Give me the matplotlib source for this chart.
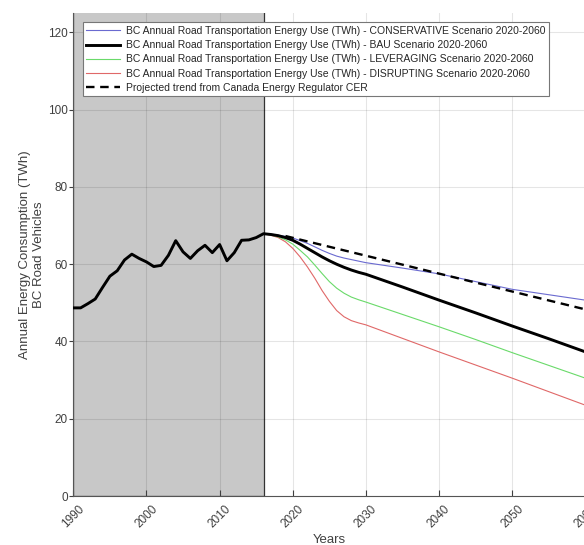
import matplotlib.pyplot as plt
from matplotlib.patches import Rectangle

# historical data 1990-2016 (TWh)
hist_years = list(range(1990, 2017))
hist_vals = [48.7, 48.7, 49.8, 51.0, 54.0, 56.9, 58.3, 61.1, 62.6, 61.5,
             60.6, 59.4, 59.7, 62.3, 66.1, 63.2, 61.5, 63.5, 64.9, 63.0,
             65.1, 60.9, 63.0, 66.2, 66.3, 66.9, 67.9]

# scenario projections
proj_years = [2017, 2018, 2019, 2020, 2021, 2022, 2023, 2024, 2025, 2026,
              2027, 2028, 2029, 2030, 2035, 2040, 2045, 2050, 2055, 2060]
conservative = [67.8, 67.5, 67.2, 66.8, 66.1, 65.4, 64.5, 63.6, 62.8, 62.1,
                61.6, 61.2, 60.8, 60.4, 59.0, 57.5, 55.5, 53.5, 52.1, 50.7]
bau = [67.7, 67.4, 66.9, 66.2, 65.2, 64.1, 63.0, 61.9, 60.9, 60.0,
       59.2, 58.5, 57.9, 57.4, 54.1, 50.7, 47.4, 44.0, 40.7, 37.3]
leveraging = [67.6, 67.1, 66.3, 65.2, 63.6, 61.9, 59.8, 57.6, 55.5, 53.8,
              52.5, 51.5, 50.8, 50.2, 47.0, 43.8, 40.5, 37.1, 33.8, 30.5]
disrupting = [67.5, 66.9, 65.8, 64.1, 61.9, 59.3, 56.4, 53.2, 50.4, 48.0,
              46.4, 45.4, 44.8, 44.3, 40.8, 37.3, 33.9, 30.5, 27.0, 23.5]

# CER trend
cer_years = [2019, 2060]
cer_vals = [67.3, 48.3]

labels = ["BC Annual Road Transportation Energy Use (TWh) - CONSERVATIVE Scenario 2020-2060",
          "BC Annual Road Transportation Energy Use (TWh) - BAU Scenario 2020-2060",
          "BC Annual Road Transportation Energy Use (TWh) - LEVERAGING Scenario 2020-2060",
          "BC Annual Road Transportation Energy Use (TWh) - DISRUPTING Scenario 2020-2060",
          "Projected trend from Canada Energy Regulator CER"]

plt.rcParams['font.family'] = ['Liberation Sans', 'DejaVu Sans']
txt = '#404040'

fig = plt.figure(figsize=(5.84, 5.45), dpi=100)
ax = fig.add_axes([0.1255, 0.0899, 0.877, 0.886])

# shaded historical period
ax.add_patch(Rectangle((1990, 0), 26, 140, facecolor='#c8c8c8',
                       edgecolor='#333333', linewidth=0.9, zorder=1))

yrs = hist_years + proj_years
l_red, = ax.plot(yrs, hist_vals + disrupting, color='#e06868', lw=0.8, zorder=3)
l_green, = ax.plot(yrs, hist_vals + leveraging, color='#6ada6a', lw=0.8, zorder=3)
l_blue, = ax.plot(yrs, hist_vals + conservative, color='#6a6ad0', lw=0.8, zorder=3)
l_black, = ax.plot(yrs, hist_vals + bau, color='black', lw=2.1, zorder=4)
l_cer, = ax.plot(cer_years, cer_vals, color='black', lw=1.7,
                 linestyle=(0, (3.6, 2.4)), zorder=5)

ax.set_xlim(1990, 2060)
ax.set_ylim(0, 125)
ax.set_xticks(range(1990, 2061, 10))
ax.set_yticks(range(0, 121, 20))
ax.grid(True, color='black', alpha=0.1, lw=0.8)

ax.spines['top'].set_visible(False)
ax.spines['right'].set_visible(False)
ax.spines['left'].set_color('#555555')
ax.spines['bottom'].set_color('#555555')
ax.tick_params(axis='x', direction='in', length=4, colors=txt, labelsize=8.5,
               rotation=45, pad=5)
ax.tick_params(axis='y', direction='out', length=3, colors=txt, labelsize=8.5, pad=1)
for lab in ax.get_xticklabels():
    lab.set_ha('center')

ax.set_xlabel('Years', color=txt, fontsize=9.5, labelpad=3)
ax.set_ylabel('Annual Energy Consumption (TWh)\nBC Road Vehicles', color=txt,
              fontsize=9.5, labelpad=2)

leg = ax.legend([l_blue, l_black, l_green, l_red, l_cer], labels,
                loc='upper left', bbox_to_anchor=(0.0184, 0.9807), borderaxespad=0,
                fontsize=7.5, handlelength=3.2, labelspacing=0.4, fancybox=False,
                framealpha=1, edgecolor='#777777', borderpad=0.35, handletextpad=0.6)
for t in leg.get_texts():
    t.set_color('#262626')
leg.get_frame().set_linewidth(0.8)

fig.savefig('out.png', dpi=100)
